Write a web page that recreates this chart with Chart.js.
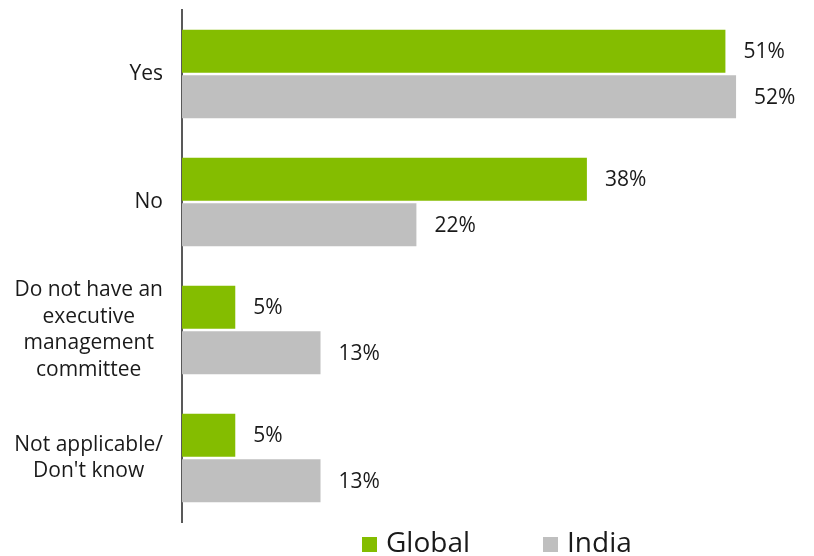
<!DOCTYPE html>
<html>
<head>
<meta charset="utf-8">
<script src="https://cdn.jsdelivr.net/npm/chart.js@4.4.1/dist/chart.umd.min.js"></script>
<style>
    body { margin: 0; background: #fff; font-family: "Open Sans", sans-serif; }
    #wrap { position: relative; width: 814px; height: 556px; overflow: hidden; }
    #legend { position: absolute; left: 362px; top: 527px; height: 28px; display: flex; font-size: 28px; line-height: 28px; color: #1a1a1a; }
    #legend .item { display: flex; margin-right: 73px; }
    #legend .box { width: 15px; height: 15px; margin-top: 10px; margin-right: 9px; }
</style>
</head>
<body>
<div id="wrap">
    <canvas id="barchart"></canvas>
    <div id="legend"></div>
</div>
<script>

// chart data
var categories = ['Yes', 'No', ['Do not have an', 'executive', 'management', 'committee'], ['Not applicable/', "Don't know"]];
var seriesNames = ['Global', 'India'];
var globalValues = [51, 38, 5, 5];
var indiaValues = [52, 22, 13, 13];
var seriesColors = ['#84BD00', '#BFBFBF'];

var textColor = '#1a1a1a';
var labelFont = '21px "Open Sans"';

// writes the percentage next to every bar
var valueLabels = {
    id: 'valueLabels',
    afterDatasetsDraw: function(chart) {
        var ctx = chart.ctx;
        ctx.save();
        ctx.font = labelFont;
        ctx.fillStyle = textColor;
        ctx.textAlign = 'left';
        ctx.textBaseline = 'middle';
        chart.data.datasets.forEach(function(ds, i) {
            var meta = chart.getDatasetMeta(i);
            meta.data.forEach(function(bar, j) {
                ctx.fillText(ds.data[j] + '%', bar.x + 18, bar.y + 1);
            });
        });
        ctx.restore();
    }
};

// category names: block sits against the axis, lines centred inside the block
var categoryLabels = {
    id: 'categoryLabels',
    afterDraw: function(chart) {
        var ctx = chart.ctx;
        var yScale = chart.scales.y;
        var right = yScale.right - 19;
        var lineH = 26.7;
        ctx.save();
        ctx.font = labelFont;
        ctx.fillStyle = textColor;
        ctx.textAlign = 'center';
        ctx.textBaseline = 'middle';
        chart.data.labels.forEach(function(lab, i) {
            var lines = Array.isArray(lab) ? lab : [lab];
            var w = 0;
            lines.forEach(function(l) { w = Math.max(w, ctx.measureText(l).width); });
            var cx = right - w / 2;
            var cy = yScale.getPixelForTick(i);
            var y0 = cy - (lines.length - 1) * lineH / 2;
            lines.forEach(function(l, k) {
                ctx.fillText(l, cx, y0 + k * lineH);
            });
        });
        ctx.restore();
    }
};

// legend as html under the plot
var htmlLegend = {
    id: 'htmlLegend',
    afterUpdate: function(chart) {
        var box = document.getElementById('legend');
        box.innerHTML = '';
        var items = chart.options.plugins.legend.labels.generateLabels(chart);
        items.forEach(function(item) {
            var div = document.createElement('div');
            div.className = 'item';
            var sq = document.createElement('span');
            sq.className = 'box';
            sq.style.background = item.fillStyle;
            var txt = document.createElement('span');
            txt.textContent = item.text;
            div.appendChild(sq);
            div.appendChild(txt);
            box.appendChild(div);
        });
    }
};

var ctx = document.getElementById('barchart');
var chart = new Chart(ctx, {
    type: 'bar',
    data: {
        labels: categories,
        datasets: [{
            label: seriesNames[0],
            data: globalValues,
            backgroundColor: seriesColors[0],
            borderWidth: 0,
            barPercentage: 0.95,
            categoryPercentage: 0.71
        }, {
            label: seriesNames[1],
            data: indiaValues,
            backgroundColor: seriesColors[1],
            borderWidth: 0,
            barPercentage: 0.95,
            categoryPercentage: 0.71
        }]
    },
    options: {
        indexAxis: 'y',
        responsive: true,
        maintainAspectRatio: false,
        animation: false,
        layout: { padding: { top: 10, right: 14, bottom: 34, left: 0 } },
        plugins: {
            legend: { display: false },
            tooltip: { enabled: false }
        },
        scales: {
            x: {
                display: false,
                min: 0,
                max: 58
            },
            y: {
                afterFit: function(scale) { scale.width = 182; },
                grid: { display: false },
                border: { display: true, color: '#595959', width: 2 },
                ticks: { display: false }
            }
        }
    },
    plugins: [valueLabels, categoryLabels, htmlLegend]
});

</script>
</body>
</html>
